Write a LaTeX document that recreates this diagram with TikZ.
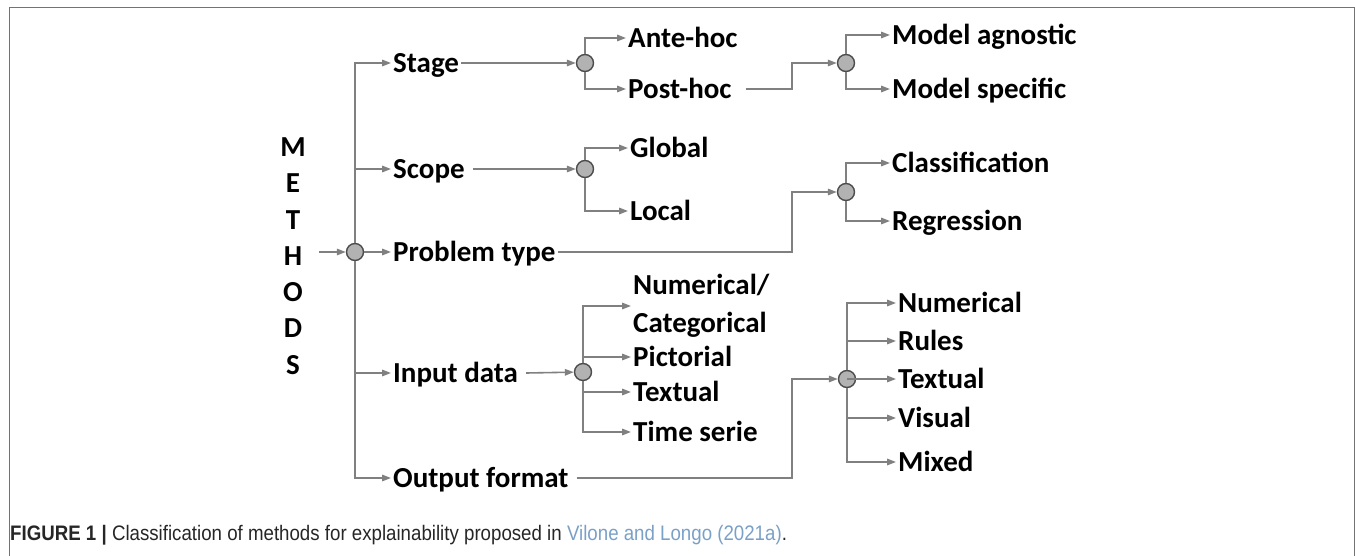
\documentclass[tikz,border=0pt]{standalone}
\usepackage{fontspec}
\setmainfont{Carlito}
\newfontfamily\capfont[FakeStretch=0.89]{Liberation Sans}
\usetikzlibrary{arrows.meta}
\definecolor{linkblue}{RGB}{122,160,200}

\begin{document}
\begin{tikzpicture}[x=1pt,y=-1pt,
lbl/.style={font=\fontsize{29}{38}\selectfont\bfseries,inner sep=2pt,anchor=west,text height=18.5pt,text depth=0pt},
lbltwo/.style={lbl,align=left,text height=,text depth=},
junc/.style={circle,draw=black!70,fill=black!30,line width=1.4pt,minimum size=17pt,inner sep=0pt},
ln/.style={draw=black!50,line width=1.6pt},
arr/.style={ln,-{Triangle[length=9pt,width=6.5pt]}}]
\useasboundingbox (0,0) rectangle (1355,556);
\draw[black!55,line width=1pt] (9,560) -- (9,8) -- (1354,8) -- (1354,560);
% root and first level
\node[font=\fontsize{29}{36.3}\selectfont\bfseries,align=center] (methods) at (293,256) {M\\E\\T\\H\\O\\D\\S};
\node[junc] (root) at (355,252) {};
\node[lbl] (stage) at (391,63) {Stage};
\node[lbl] (scope) at (391,169) {Scope};
\node[lbl] (ptype) at (391,252) {Problem type};
\node[lbl] (input) at (391,373) {Input data};
\node[lbl] (output) at (391,478) {Output format};
\draw[arr] ([xshift=10pt]methods.east |- root) -- (root);
\draw[arr] (root) |- (stage);
\draw[arr] (root) |- (scope);
\draw[arr] (root) -- (ptype);
\draw[arr] (root) |- (input);
\draw[arr] (root) |- (output);
\coordinate (elbow) at (792,0);
% stage
\node[junc] (jstage) at (585,63) {};
\node[lbl] (ante) at (626,38) {Ante-hoc};
\node[lbl] (post) at (626,89) {Post-hoc};
\draw[arr] (stage) -- (jstage);
\draw[arr] (jstage) |- (ante);
\draw[arr] (jstage) |- (post);
\node[junc] (jmodel) at (846,63) {};
\node[lbl] (agnostic) at (890,35) {Model agnostic};
\node[lbl] (specific) at (890,89) {Model specific};
\draw[arr] ([xshift=12pt]post.east) -- (post -| elbow) |- (jmodel);
\draw[arr] (jmodel) |- (agnostic);
\draw[arr] (jmodel) |- (specific);
% scope
\node[junc] (jscope) at (585,169) {};
\node[lbl] (global) at (628,148) {Global};
\node[lbl] (local) at (628,211) {Local};
\draw[arr] ([xshift=6pt]scope.east) -- (jscope);
\draw[arr] (jscope) |- (global);
\draw[arr] (jscope) |- (local);
% problem type
\node[junc] (jprob) at (846,192) {};
\node[lbl] (classif) at (890,163) {Classification};
\node[lbl] (regr) at (890,221) {Regression};
\draw[arr] (ptype) -- (ptype -| elbow) |- (jprob);
\draw[arr] (jprob) |- (classif);
\draw[arr] (jprob) |- (regr);
% input data
\node[junc] (jin) at (583,372) {};
\node[lbltwo] (numcat) at (631,306) {Numerical/\\Categorical};
\node[lbl] (pict) at (631,357) {Pictorial};
\node[lbl] (intext) at (631,392) {Textual};
\node[lbl] (timeser) at (631,432) {Time serie};
\draw[arr] ([xshift=6pt]input.east) -- (jin);
\draw[arr] (jin) |- (numcat);
\draw[arr] (jin) |- (pict);
\draw[arr] (jin) |- (intext);
\draw[arr] (jin) |- (timeser);
% output format
\node[junc] (jout) at (847,379) {};
\node[lbl] (outnum) at (896,303) {Numerical};
\node[lbl] (rules) at (896,341) {Rules};
\node[lbl] (outtext) at (896,379) {Textual};
\node[lbl] (visual) at (896,418) {Visual};
\node[lbl] (mixed) at (896,462) {Mixed};
\draw[arr] ([xshift=6pt]output.east) -- (output -| elbow) |- (jout);
\foreach \n in {outnum,rules,outtext,visual,mixed}
  \draw[arr] (jout) |- (\n);
% caption
\node[anchor=base west,inner sep=0pt,font=\capfont\fontsize{21}{24}\selectfont,text=black!85] (caption) at (10,540)
  {\textbf{FIGURE 1 |} Classification of methods for explainability proposed in \textcolor{linkblue}{Vilone and Longo (2021a)}.};
\end{tikzpicture}
\end{document}
